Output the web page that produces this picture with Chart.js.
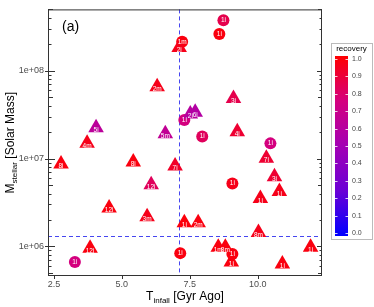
<!DOCTYPE html>
<html>
<head>
<meta charset="utf-8">
<script src="https://cdn.jsdelivr.net/npm/chart.js@4/dist/chart.umd.min.js"></script>
<style>
  html, body { margin: 0; padding: 0; background: #fff; }
  #wrap { width: 374px; height: 307px; }
</style>
</head>
<body>
<div id="wrap"><canvas id="myChart"></canvas></div>
<script>
// Triangle markers
var triX = [7.11, 6.30, 9.11, 4.05, 3.72, 6.60, 7.52, 7.70, 9.25, 10.32, 2.76, 5.42, 6.96, 6.08, 10.62, 10.80, 10.10, 4.53, 5.93, 7.30, 7.81, 10.03, 3.83, 8.55, 8.81, 9.03, 10.91, 11.95];
var triY = [1.84e8, 6.58e7, 4.83e7, 2.24e7, 1.49e7, 1.92e7, 3.21e7, 3.37e7, 2.02e7, 1.01e7, 8.67e6, 9.12e6, 8.22e6, 5.05e6, 6.21e6, 4.22e6, 3.52e6, 2.73e6, 2.17e6, 1.86e6, 1.86e6, 1.44e6, 9.53e5, 9.75e5, 9.75e5, 6.65e5, 6.31e5, 9.75e5];
var triRecovery = [0.95, 0.95, 0.85, 0.62, 0.95, 0.65, 0.6, 0.58, 0.9, 0.9, 0.97, 0.97, 0.92, 0.82, 0.9, 0.95, 0.95, 0.97, 0.95, 0.98, 0.97, 0.95, 0.97, 0.97, 0.97, 0.97, 0.97, 0.97];
var triLabels = ["2i", "2m", "3i", "5i", "4m", "5m", "2i", "6i", "4i", "7i", "8i", "8i", "7i", "12i", "3i", "1i", "1i", "12i", "3m", "1i", "2m", "8m", "12i", "1m", "8m", "1i", "1i", "1i"];

// Circle markers
var cirX = [8.74, 8.59, 7.22, 7.30, 7.96, 10.47, 9.07, 7.15, 9.07, 3.27];
var cirY = [3.77e8, 2.63e8, 2.14e8, 2.75e7, 1.78e7, 1.49e7, 5.19e6, 8.38e5, 8.17e5, 6.65e5];
var cirRecovery = [0.85, 0.97, 0.97, 0.75, 0.82, 0.75, 0.95, 0.97, 0.97, 0.75];
var cirLabels = ["1i", "1i", "1m", "1i", "1i", "1i", "1i", "1i", "1i", "1i"];

// Cut lines, ticks
var tInfallCut = 7.1;
var massCut = 1.31e6;
var xTicks = [2.5, 5.0, 7.5, 10.0];
var yMajor = [1e6, 1e7, 1e8];
var colorbarTicks = [0, 0.1, 0.2, 0.3, 0.4, 0.5, 0.6, 0.7, 0.8, 0.9, 1.0];

var FONT = "'Liberation Sans', Arial, sans-serif";
var stops = [[0, [0, 0, 255]], [0.25, [106, 0, 214]], [0.5, [163, 0, 180]], [0.75, [212, 0, 126]], [1, [255, 0, 0]]];

function recoveryColor(v) {
  for (var i = 1; i < stops.length; i++) {
    if (v <= stops[i][0]) {
      var a = stops[i - 1], b = stops[i];
      var t = (v - a[0]) / (b[0] - a[0]);
      var c = a[1].map(function (q, k) { return Math.round(q + (b[1][k] - q) * t); });
      return "rgb(" + c.join(",") + ")";
    }
  }
  return "rgb(255,0,0)";
}

function toPoints(xs, ys) {
  return xs.map(function (x, i) { return { x: x, y: ys[i] }; });
}

var allLabels = [triLabels, cirLabels];

const decor = {
  id: "decor",
  beforeDatasetsDraw(chart) {
    const ctx = chart.ctx, a = chart.chartArea;
    const xs = chart.scales.x, ys = chart.scales.y;
    ctx.save();
    ctx.strokeStyle = "#4646f0";
    ctx.lineWidth = 1;
    ctx.setLineDash([4, 3]);
    var px = Math.round(xs.getPixelForValue(tInfallCut)) + 0.5;
    ctx.beginPath(); ctx.moveTo(px, a.top); ctx.lineTo(px, a.bottom); ctx.stroke();
    var py = Math.round(ys.getPixelForValue(massCut)) + 0.5;
    ctx.beginPath(); ctx.moveTo(a.left, py); ctx.lineTo(a.right, py); ctx.stroke();
    ctx.restore();
  },
  afterDatasetsDraw(chart) {
    const ctx = chart.ctx;
    ctx.save();
    ctx.fillStyle = "#fff";
    ctx.font = "6.5px " + FONT;
    ctx.textAlign = "center";
    ctx.textBaseline = "middle";
    chart.data.datasets.forEach(function (ds, i) {
      var off = i === 0 ? 2.5 : 0;
      chart.getDatasetMeta(i).data.forEach(function (el, j) {
        ctx.fillText(allLabels[i][j], el.x, el.y + off);
      });
    });
    ctx.restore();
  },
  afterDraw(chart) {
    const ctx = chart.ctx, a = chart.chartArea;
    const xs = chart.scales.x, ys = chart.scales.y;
    ctx.save();
    // frame
    ctx.strokeStyle = "#333";
    ctx.lineWidth = 1;
    ctx.strokeRect(a.left + 0.5, a.top + 0.5, a.right - a.left - 1, a.bottom - a.top - 1);
    // log ticks on left and right
    for (var e = 5; e <= 8; e++) {
      for (var m = 1; m <= 9; m++) {
        var v = m * Math.pow(10, e);
        if (v < ys.min || v > ys.max) continue;
        var y = Math.round(ys.getPixelForValue(v)) + 0.5;
        var lenL = m === 1 ? 7 : (m === 5 ? 5 : 3.5);
        var lenR = m === 1 ? 5 : (m === 5 ? 4 : 2.5);
        ctx.beginPath();
        ctx.moveTo(a.left - (m === 1 ? 3 : 0), y); ctx.lineTo(a.left + lenL, y);
        ctx.moveTo(a.right, y); ctx.lineTo(a.right - lenR, y);
        ctx.stroke();
      }
    }
    // x ticks
    xTicks.forEach(function (t) {
      var x = Math.round(xs.getPixelForValue(t)) + 0.5;
      ctx.beginPath(); ctx.moveTo(x, a.bottom); ctx.lineTo(x, a.bottom + 3); ctx.stroke();
    });
    // panel label
    ctx.fillStyle = "#000";
    ctx.font = "14px " + FONT;
    ctx.textAlign = "left";
    ctx.textBaseline = "middle";
    ctx.fillText("(a)", a.left + 14, 27);
    // x title with subscript
    ctx.textBaseline = "alphabetic";
    var big = "12px " + FONT, small = "8px " + FONT;
    ctx.font = big; var w1 = ctx.measureText("T").width;
    ctx.font = small; var w2 = ctx.measureText("infall").width;
    ctx.font = big; var w3 = ctx.measureText(" [Gyr Ago]").width;
    var cx = (a.left + a.right) / 2, bx = cx - (w1 + w2 + w3) / 2, by = 300;
    ctx.fillText("T", bx, by);
    ctx.font = small; ctx.fillText("infall", bx + w1, by + 3);
    ctx.font = big; ctx.fillText(" [Gyr Ago]", bx + w1 + w2, by);
    // y title with subscript
    ctx.save();
    ctx.translate(14, (a.top + a.bottom) / 2);
    ctx.rotate(-Math.PI / 2);
    ctx.font = big; w1 = ctx.measureText("M").width;
    ctx.font = small; w2 = ctx.measureText("stellar").width;
    ctx.font = big; w3 = ctx.measureText(" [Solar Mass]").width;
    bx = -(w1 + w2 + w3) / 2;
    ctx.fillText("M", bx, 0);
    ctx.font = small; ctx.fillText("stellar", bx + w1, 3);
    ctx.font = big; ctx.fillText(" [Solar Mass]", bx + w1 + w2, 0);
    ctx.restore();
    // colour bar legend
    var boxL = 331, boxT = 43, boxW = 41, boxH = 196;
    ctx.strokeStyle = "#bbb";
    ctx.strokeRect(boxL + 0.5, boxT + 0.5, boxW, boxH);
    ctx.fillStyle = "#000";
    ctx.font = "8px " + FONT;
    ctx.textAlign = "center";
    ctx.textBaseline = "middle";
    ctx.fillText("recovery", boxL + boxW / 2, 49);
    var barL = 335, barW = 13, barT = 56, barB = 236;
    var grad = ctx.createLinearGradient(0, barB, 0, barT);
    stops.forEach(function (s) { grad.addColorStop(s[0], "rgb(" + s[1].join(",") + ")"); });
    ctx.fillStyle = grad;
    ctx.fillRect(barL, barT, barW, barB - barT);
    ctx.font = "7px " + FONT;
    ctx.textAlign = "left";
    ctx.strokeStyle = "rgba(255,255,255,0.8)";
    colorbarTicks.forEach(function (t) {
      var y = Math.round(barB - 3 - t * (barB - barT - 6)) + 0.5;
      ctx.beginPath();
      ctx.moveTo(barL, y); ctx.lineTo(barL + 2.5, y);
      ctx.moveTo(barL + barW - 2.5, y); ctx.lineTo(barL + barW, y);
      ctx.stroke();
      ctx.fillStyle = "#444";
      ctx.fillText(t.toFixed(1), barL + barW + 4, y);
    });
    ctx.restore();
  }
};

new Chart(document.getElementById("myChart"), {
  type: "scatter",
  data: {
    datasets: [{
      label: "triangles",
      data: toPoints(triX, triY),
      pointStyle: "triangle",
      pointRadius: 9,
      pointHoverRadius: 9,
      pointBorderWidth: 0,
      pointBackgroundColor: triRecovery.map(recoveryColor),
      pointBorderColor: triRecovery.map(recoveryColor),
    }, {
      label: "circles",
      data: toPoints(cirX, cirY),
      pointStyle: "circle",
      pointRadius: 6,
      pointHoverRadius: 6,
      pointBorderWidth: 0,
      pointBackgroundColor: cirRecovery.map(recoveryColor),
      pointBorderColor: cirRecovery.map(recoveryColor),
    }],
  },
  options: {
    responsive: true,
    maintainAspectRatio: false,
    animation: false,
    events: [],
    layout: { padding: { top: 4, right: 52, left: 0, bottom: 0 } },
    plugins: {
      legend: { display: false },
      tooltip: { enabled: false },
    },
    scales: {
      x: {
        type: "linear",
        min: 2.28,
        max: 12.37,
        afterBuildTicks: function (s) { s.ticks = xTicks.map(function (v) { return { value: v }; }); },
        afterFit: function (s) { s.height = 31; },
        grid: { display: false, drawTicks: false },
        border: { display: false },
        ticks: {
          callback: function (v) { return Number(v).toFixed(1); },
          color: "#4d4d4d",
          font: { size: 9, family: FONT },
          padding: 3,
          maxRotation: 0,
        },
      },
      y: {
        type: "logarithmic",
        min: 4.6e5,
        max: 5e8,
        afterBuildTicks: function (s) { s.ticks = yMajor.map(function (v) { return { value: v }; }); },
        afterFit: function (s) { s.width = 48; },
        grid: { display: false, drawTicks: false },
        border: { display: false },
        ticks: {
          callback: function (v) { return Number(v).toExponential(0).replace(/e\+(\d)$/, "e+0$1"); },
          color: "#4d4d4d",
          font: { size: 9, family: FONT },
          padding: 4,
        },
      },
    },
  },
  plugins: [decor],
});
</script>
</body>
</html>
